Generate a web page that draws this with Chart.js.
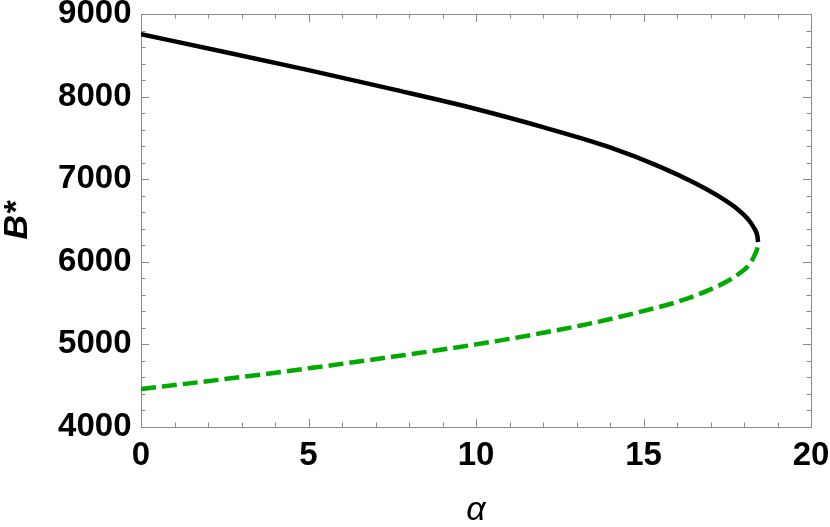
<!DOCTYPE html>
<html>
<head>
<meta charset="utf-8">
<script src="https://cdn.jsdelivr.net/npm/chart.js@4.4.1/dist/chart.umd.min.js"></script>
<style>
  html, body { margin: 0; padding: 0; background: #fff; }
  #wrap { width: 830px; height: 527px; }
</style>
</head>
<body>
<div id="wrap"><canvas id="grafik" width="830" height="527"></canvas></div>
<script>
const xTicks = [0, 5, 10, 15, 20];
const yTicks = [4000, 5000, 6000, 7000, 8000, 9000];

// upper branch (solid black)
const upperAlpha = [0, 2.5, 5, 7.5, 10, 12, 14, 15.5, 16.5, 17.3, 17.8, 18.1, 18.3, 18.4, 18.42];
const upperB = [8755, 8540, 8320, 8090, 7850, 7630, 7385, 7150, 6960, 6780, 6640, 6525, 6410, 6310, 6240];

// lower branch (dashed green)
const lowerAlpha = [0, 2.5, 5, 7.5, 10, 12, 14.3, 16.7, 17.9, 18.2, 18.35, 18.4, 18.42];
const lowerB = [4460, 4580, 4710, 4850, 5000, 5140, 5335, 5615, 5870, 5990, 6110, 6170, 6240];

const toPoints = (xs, ys) => xs.map((x, i) => ({ x: x, y: ys[i] }));

const frameColor = "#8a8a8a";
const tickFont = { family: "Liberation Sans", size: 33, weight: "bold" };

// frame with ticks inside on all four sides
const framePlugin = {
  id: "frame",
  beforeDatasetsDraw(chart) {
    const { ctx, chartArea: a, scales } = chart;
    const x = scales.x, y = scales.y;
    ctx.save();
    ctx.strokeStyle = frameColor;
    ctx.lineWidth = 1;
    ctx.beginPath();
    for (let v = xTicks[0]; v <= xTicks[xTicks.length - 1]; v += 1) {
      const px = Math.round(x.getPixelForValue(v)) + 0.5;
      const len = xTicks.includes(v) ? 8 : 4.5;
      ctx.moveTo(px, a.bottom); ctx.lineTo(px, a.bottom - len);
      ctx.moveTo(px, a.top); ctx.lineTo(px, a.top + len);
    }
    for (let v = yTicks[0]; v <= yTicks[yTicks.length - 1]; v += 200) {
      const py = Math.round(y.getPixelForValue(v)) + 0.5;
      const len = yTicks.includes(v) ? 8 : 4.5;
      ctx.moveTo(a.left, py); ctx.lineTo(a.left + len, py);
      ctx.moveTo(a.right, py); ctx.lineTo(a.right - len, py);
    }
    ctx.stroke();
    ctx.strokeRect(a.left + 0.5, a.top + 0.5, a.right - a.left, a.bottom - a.top);
    ctx.restore();
  }
};

const ctx = document.getElementById("grafik").getContext("2d");
new Chart(ctx, {
  type: "scatter",
  data: {
    datasets: [
      {
        label: "upper",
        data: toPoints(upperAlpha, upperB),
        showLine: true,
        borderColor: "#000000",
        borderWidth: 4.5,
        pointRadius: 0,
        cubicInterpolationMode: "monotone"
      },
      {
        label: "lower",
        data: toPoints(lowerAlpha, lowerB),
        showLine: true,
        borderColor: "#00aa00",
        borderWidth: 4.5,
        borderDash: [15, 6],
        pointRadius: 0,
        cubicInterpolationMode: "monotone"
      }
    ]
  },
  options: {
    responsive: false,
    devicePixelRatio: 1,
    animation: false,
    layout: { padding: { top: 14, right: 19, left: 0, bottom: 0 } },
    plugins: { legend: { display: false }, tooltip: { enabled: false } },
    scales: {
      x: {
        type: "linear",
        min: 0,
        max: 20,
        afterBuildTicks: s => { s.ticks = xTicks.map(v => ({ value: v })); },
        afterFit: s => { s.height = 100; s.paddingLeft = 0; s.paddingRight = 0; },
        grid: { display: false, drawTicks: false },
        border: { display: false },
        ticks: { font: tickFont, color: "#000", padding: 9, maxRotation: 0, callback: v => String(v) },
        title: {
          display: true,
          text: "α",
          color: "#000",
          font: { family: "Liberation Sans", size: 34, style: "italic", lineHeight: 0.8 },
          padding: { top: 0, bottom: 3 }
        }
      },
      y: {
        type: "linear",
        min: 4000,
        max: 9000,
        afterBuildTicks: s => { s.ticks = yTicks.map(v => ({ value: v })); },
        afterFit: s => { s.width = 141; s.paddingTop = 0; s.paddingBottom = 0; },
        grid: { display: false, drawTicks: false },
        border: { display: false },
        ticks: { font: tickFont, color: "#000", padding: 9.5, callback: v => String(v) },
        title: {
          display: true,
          text: "B*",
          color: "#000",
          font: { family: "Liberation Sans", size: 34, style: "italic", weight: "bold", lineHeight: 1 },
          padding: { top: 1, bottom: 0 }
        }
      }
    }
  },
  plugins: [framePlugin]
});
</script>
</body>
</html>
